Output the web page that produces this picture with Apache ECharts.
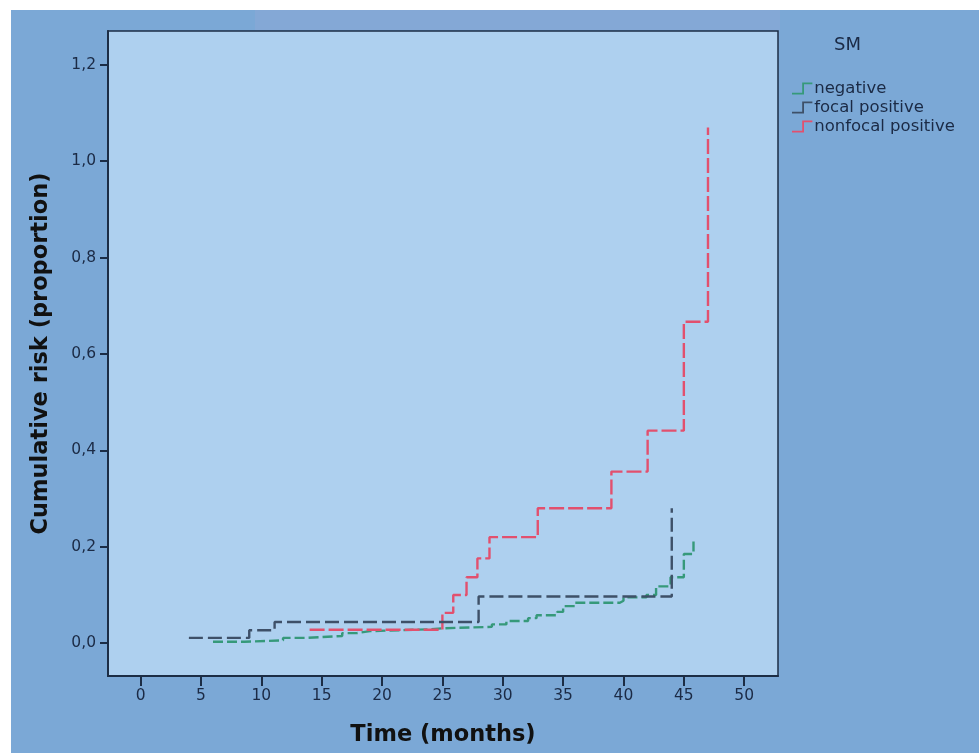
<!DOCTYPE html>
<html>
<head>
<meta charset="utf-8">
<script src="https://cdn.jsdelivr.net/npm/echarts@6/dist/echarts.min.js"></script>
<style>
html,body{margin:0;padding:0;background:#ffffff;}
#chart{width:979px;height:753px;}
</style>
</head>
<body>
<div id="chart"></div>
<script>
// Series data: [time (months), cumulative risk]
const negative = [
  [6, 0.003], [8.6, 0.006], [11.8, 0.011], [13.7, 0.015], [16.7, 0.021], [17.9, 0.025],
  [19, 0.029], [24, 0.031], [25, 0.034], [29.1, 0.039], [30.3, 0.046], [32.1, 0.052],
  [32.8, 0.058], [34.5, 0.065], [35, 0.077], [36, 0.084], [39.7, 0.088], [40, 0.095],
  [41.9, 0.1], [42.7, 0.118], [43.9, 0.137], [45, 0.185], [45.8, 0.212]
];
const focalPositive = [
  [4, 0.011], [9, 0.027], [11.1, 0.044], [28, 0.097], [44, 0.28]
];
const nonfocalPositive = [
  [14, 0.028], [25, 0.063], [25.9, 0.1], [27, 0.137], [27.9, 0.176], [28.9, 0.22],
  [32.9, 0.28], [39, 0.356], [42, 0.441], [45, 0.667], [47, 1.07]
];
const seriesNames = ['negative', 'focal positive', 'nonfocal positive'];
const xTicks = [0, 5, 10, 15, 20, 25, 30, 35, 40, 45, 50];
const yTicks = [0, 0.2, 0.4, 0.6, 0.8, 1.0, 1.2];

const colors = ['#36997a', '#3e5068', '#e2506e'];
const dashes = [[10, 4], [14, 5], [15, 4]];
const datasets = [negative, focalPositive, nonfocalPositive];

const chart = echarts.init(document.getElementById('chart'), null, {renderer: 'canvas'});
const textColor = '#1b2a45';
const font = '"DejaVu Sans", sans-serif';
const stepIcon = 'path://M0,9 L9,9 L9,0 L18,0 L18,1.6 L10.6,1.6 L10.6,10.6 L0,10.6 Z';

chart.setOption({
  backgroundColor: '#7ba8d6',
  animation: false,
  graphic: [
    {type: 'rect', left: 0, top: 0, shape: {width: 979, height: 10}, style: {fill: '#ffffff'}, silent: true},
    {type: 'rect', left: 0, top: 0, shape: {width: 11, height: 753}, style: {fill: '#ffffff'}, silent: true},
    {type: 'rect', left: 255, top: 10, shape: {width: 525, height: 20}, style: {fill: '#84a8d6'}, silent: true},
    {type: 'text', left: 834, top: 36, style: {text: 'SM', fill: textColor, font: '18px "DejaVu Sans", sans-serif'}}
  ],
  grid: {
    left: 108, right: 201, top: 31, bottom: 77,
    show: true, backgroundColor: '#aed0ef', borderColor: '#1c2d45', borderWidth: 1.5
  },
  legend: {
    orient: 'vertical', left: 787, top: 75, itemGap: 2,
    itemWidth: 22, itemHeight: 12,
    data: seriesNames.map((n, i) => ({name: n, icon: stepIcon, itemStyle: {color: colors[i]}})),
    textStyle: {color: textColor, fontSize: 16.5, fontFamily: font, padding: [0, 0, 0, -4]}
  },
  xAxis: {
    type: 'value', min: -2.7, max: 52.8,
    name: 'Time (months)', nameLocation: 'middle', nameGap: 48,
    nameTextStyle: {color: '#111', fontSize: 22.5, fontWeight: 'bold', fontFamily: font},
    axisLine: {show: true, onZero: false, lineStyle: {color: '#1c2d45', width: 2}},
    axisTick: {show: true, length: 10, customValues: xTicks, lineStyle: {color: '#1c2d45', width: 2}},
    axisLabel: {customValues: xTicks, color: textColor, fontSize: 15.5, margin: 12, fontFamily: font},
    splitLine: {show: false}
  },
  yAxis: {
    type: 'value', min: -0.068, max: 1.27,
    name: 'Cumulative risk (proportion)', nameLocation: 'middle', nameGap: 55, nameRotate: 90,
    nameTextStyle: {color: '#111', fontSize: 22.5, fontWeight: 'bold', fontFamily: font},
    axisLine: {show: true, onZero: false, lineStyle: {color: '#1c2d45', width: 2}},
    axisTick: {show: true, length: 8, customValues: yTicks, lineStyle: {color: '#1c2d45', width: 2}},
    axisLabel: {customValues: yTicks, color: textColor, fontSize: 15.5, margin: 12,
      fontFamily: font,
      formatter: v => v.toFixed(1).replace('.', ',')},
    splitLine: {show: false}
  },
  series: datasets.map((d, i) => ({
    name: seriesNames[i], type: 'line', step: 'end', data: d,
    showSymbol: false, symbol: 'none', z: 3 + (i === 1 ? 1 : 0),
    lineStyle: {color: colors[i], width: 2.4, type: dashes[i]},
    itemStyle: {color: colors[i]}
  }))
});
</script>
</body>
</html>
